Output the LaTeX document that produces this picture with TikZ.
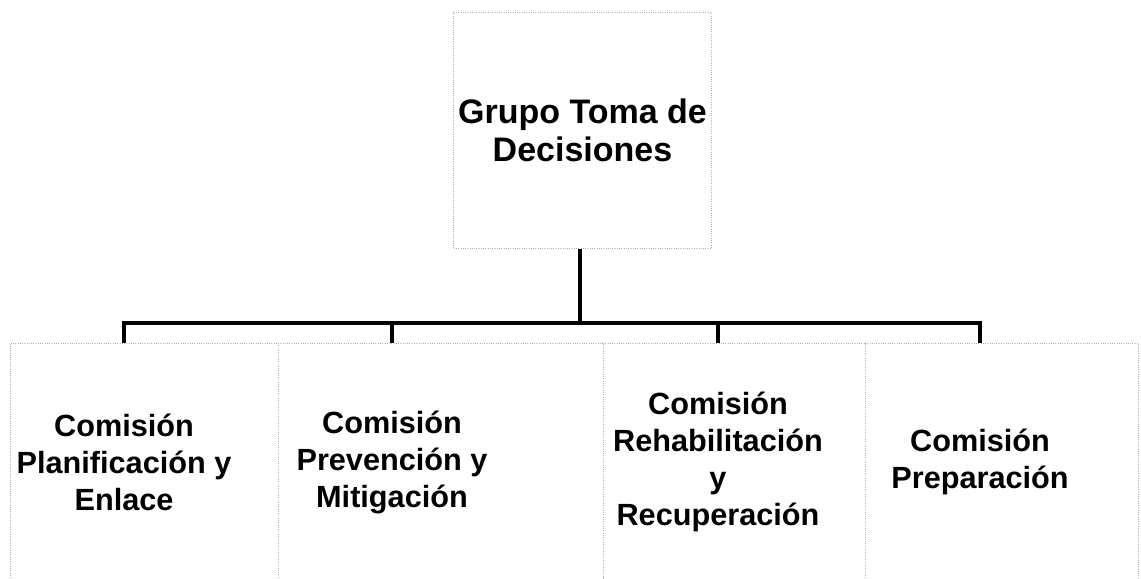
\documentclass[tikz,border=0pt]{standalone}
\usepackage{fontspec}
\setmainfont{Liberation Sans}
\tikzset{
  frame/.style={draw=gray!60, densely dotted, line width=0.7pt},
  conn/.style={line width=3.5pt, line join=miter},
  cargo/.style={font=\bfseries\fontsize{23}{27.75}\selectfont, align=center},
}
\begin{document}
\begin{tikzpicture}[x=0.75pt,y=-0.75pt]
		\useasboundingbox (0,0) rectangle (1141,578);
		\node[frame, cargo, minimum width=191pt, minimum height=177pt,
		  font=\bfseries\fontsize{25.5}{29}\selectfont] (grupo) at (582.5,130.5) {Grupo Toma de\\Decisiones};
		% marcos de las comisiones
		\draw[frame] (10,578)--(10,343)--(278,343)--(278,578);
		\draw[frame] (278,343)--(603,343)--(603,578);
		\draw[frame] (603,343)--(865,343)--(865,578);
		\draw[frame] (865,343)--(1138,343)--(1138,578);
		\node[cargo] (planif) at (124,462) {Comisión\\Planificación y\\Enlace};
		\node[cargo] (preven) at (392,462) {Comisión\\Prevención y\\Mitigación};
		\node[cargo] (rehab) at (718,462) {Comisión\\Rehabilitación\\y\\Recuperación};
		\node[cargo] (prepar) at (980,462) {Comisión\\Preparación};
		\coordinate (barra) at (580,323);
		\coordinate (tope) at (0,343);
		\draw[conn] (grupo.south -| barra) -- (barra);
		\draw[conn] (planif |- tope) |- (barra) -| (prepar |- tope);
		\draw[conn] (preven |- barra) -- (preven |- tope);
		\draw[conn] (rehab |- barra) -- (rehab |- tope);
	    \end{tikzpicture}
\end{document}
